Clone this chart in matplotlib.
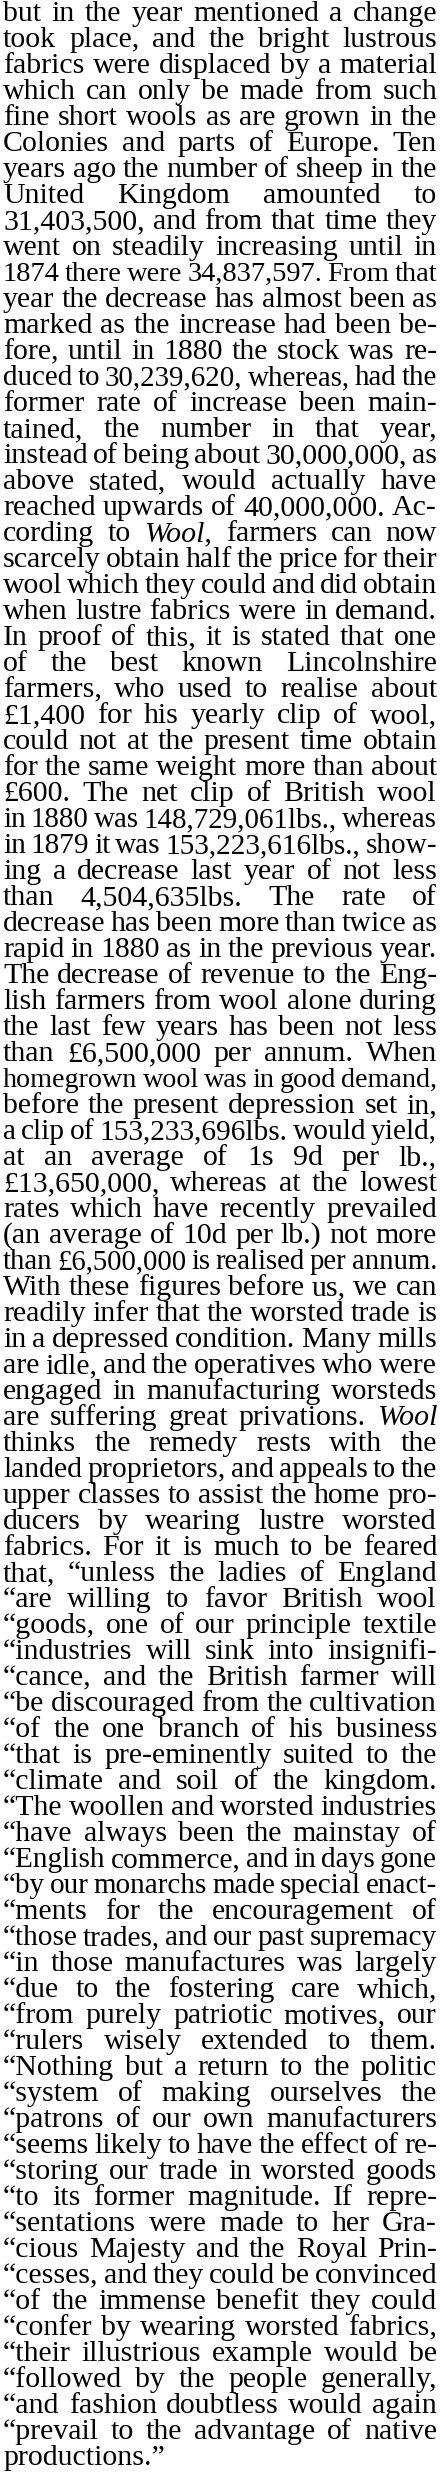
import matplotlib
matplotlib.use('Agg')
import matplotlib.pyplot as plt

# column text, one entry per printed line; _word_ = italic
lines = [
    "but in the year mentioned a change",
    "took place, and the bright lustrous",
    "fabrics were displaced by a material",
    "which can only be made from such",
    "fine short wools as are grown in the",
    "Colonies and parts of Europe. Ten",
    "years ago the number of sheep in the",
    "United Kingdom amounted to",
    "31,403,500, and from that time they",
    "went on steadily increasing until in",
    "1874 there were 34,837,597. From that",
    "year the decrease has almost been as",
    "marked as the increase had been be-",
    "fore, until in 1880 the stock was re-",
    "duced to 30,239,620, whereas, had the",
    "former rate of increase been main-",
    "tained, the number in that year,",
    "instead of being about 30,000,000, as",
    "above stated, would actually have",
    "reached upwards of 40,000,000. Ac-",
    "cording to _Wool,_ farmers can now",
    "scarcely obtain half the price for their",
    "wool which they could and did obtain",
    "when lustre fabrics were in demand.",
    "In proof of this, it is stated that one",
    "of the best known Lincolnshire",
    "farmers, who used to realise about",
    "£1,400 for his yearly clip of wool,",
    "could not at the present time obtain",
    "for the same weight more than about",
    "£600. The net clip of British wool",
    "in 1880 was 148,729,061lbs., whereas",
    "in 1879 it was 153,223,616lbs., show-",
    "ing a decrease last year of not less",
    "than 4,504,635lbs. The rate of",
    "decrease has been more than twice as",
    "rapid in 1880 as in the previous year.",
    "The decrease of revenue to the Eng-",
    "lish farmers from wool alone during",
    "the last few years has been not less",
    "than £6,500,000 per annum. When",
    "homegrown wool was in good demand,",
    "before the present depression set in,",
    "a clip of 153,233,696lbs. would yield,",
    "at an average of 1s 9d per lb.,",
    "£13,650,000, whereas at the lowest",
    "rates which have recently prevailed",
    "(an average of 10d per lb.) not more",
    "than £6,500,000 is realised per annum.",
    "With these figures before us, we can",
    "readily infer that the worsted trade is",
    "in a depressed condition. Many mills",
    "are idle, and the operatives who were",
    "engaged in manufacturing worsteds",
    "are suffering great privations. _Wool_",
    "thinks the remedy rests with the",
    "landed proprietors, and appeals to the",
    "upper classes to assist the home pro-",
    "ducers by wearing lustre worsted",
    "fabrics. For it is much to be feared",
    "that, “unless the ladies of England",
    "“are willing to favor British wool",
    "“goods, one of our principle textile",
    "“industries will sink into insignifi-",
    "“cance, and the British farmer will",
    "“be discouraged from the cultivation",
    "“of the one branch of his business",
    "“that is pre-eminently suited to the",
    "“climate and soil of the kingdom.",
    "“The woollen and worsted industries",
    "“have always been the mainstay of",
    "“English commerce, and in days gone",
    "“by our monarchs made special enact-",
    "“ments for the encouragement of",
    "“those trades, and our past supremacy",
    "“in those manufactures was largely",
    "“due to the fostering care which,",
    "“from purely patriotic motives, our",
    "“rulers wisely extended to them.",
    "“Nothing but a return to the politic",
    "“system of making ourselves the",
    "“patrons of our own manufacturers",
    "“seems likely to have the effect of re-",
    "“storing our trade in worsted goods",
    "“to its former magnitude. If repre-",
    "“sentations were made to her Gra-",
    "“cious Majesty and the Royal Prin-",
    "“cesses, and they could be convinced",
    "“of the immense benefit they could",
    "“confer by wearing worsted fabrics,",
    "“their illustrious example would be",
    "“followed by the people generally,",
    "“and fashion doubtless would again",
    "“prevail to the advantage of native",
    "productions.”",
]

W, H = 440, 2476
fig = plt.figure(figsize=(W / 100, H / 100), dpi=100)
fig.patch.set_facecolor('white')
renderer = fig.canvas.get_renderer()

left, right = 3, 437
top, pitch = 21, 26.0
fs = 21.5
min_gap = 5

for i, line in enumerate(lines):
    y = H - (top + pitch * i)
    words = line.split(' ')
    items = []
    for w in words:
        italic = w.startswith('_')
        w = w.replace('_', '')
        t = fig.text(0, y / H, w, fontsize=fs, family='Liberation Serif',
                     style='italic' if italic else 'normal', va='baseline')
        items.append(t)
    widths = [t.get_window_extent(renderer).width for t in items]
    total = sum(widths)
    last = (i == len(lines) - 1)
    avail = right - left
    room = avail - min_gap * (len(items) - 1)
    if total > room:
        # squeeze long lines
        scale = room / total
        for t in items:
            t.set_fontsize(fs * scale)
        widths = [t.get_window_extent(renderer).width for t in items]
        total = sum(widths)
    if last or len(items) == 1:
        gap = 6
    else:
        gap = (avail - total) / (len(items) - 1)
    x = left
    for t, wd in zip(items, widths):
        t.set_x(x / W)
        x += wd + gap

fig.savefig('out.png', dpi=100, facecolor='white')
